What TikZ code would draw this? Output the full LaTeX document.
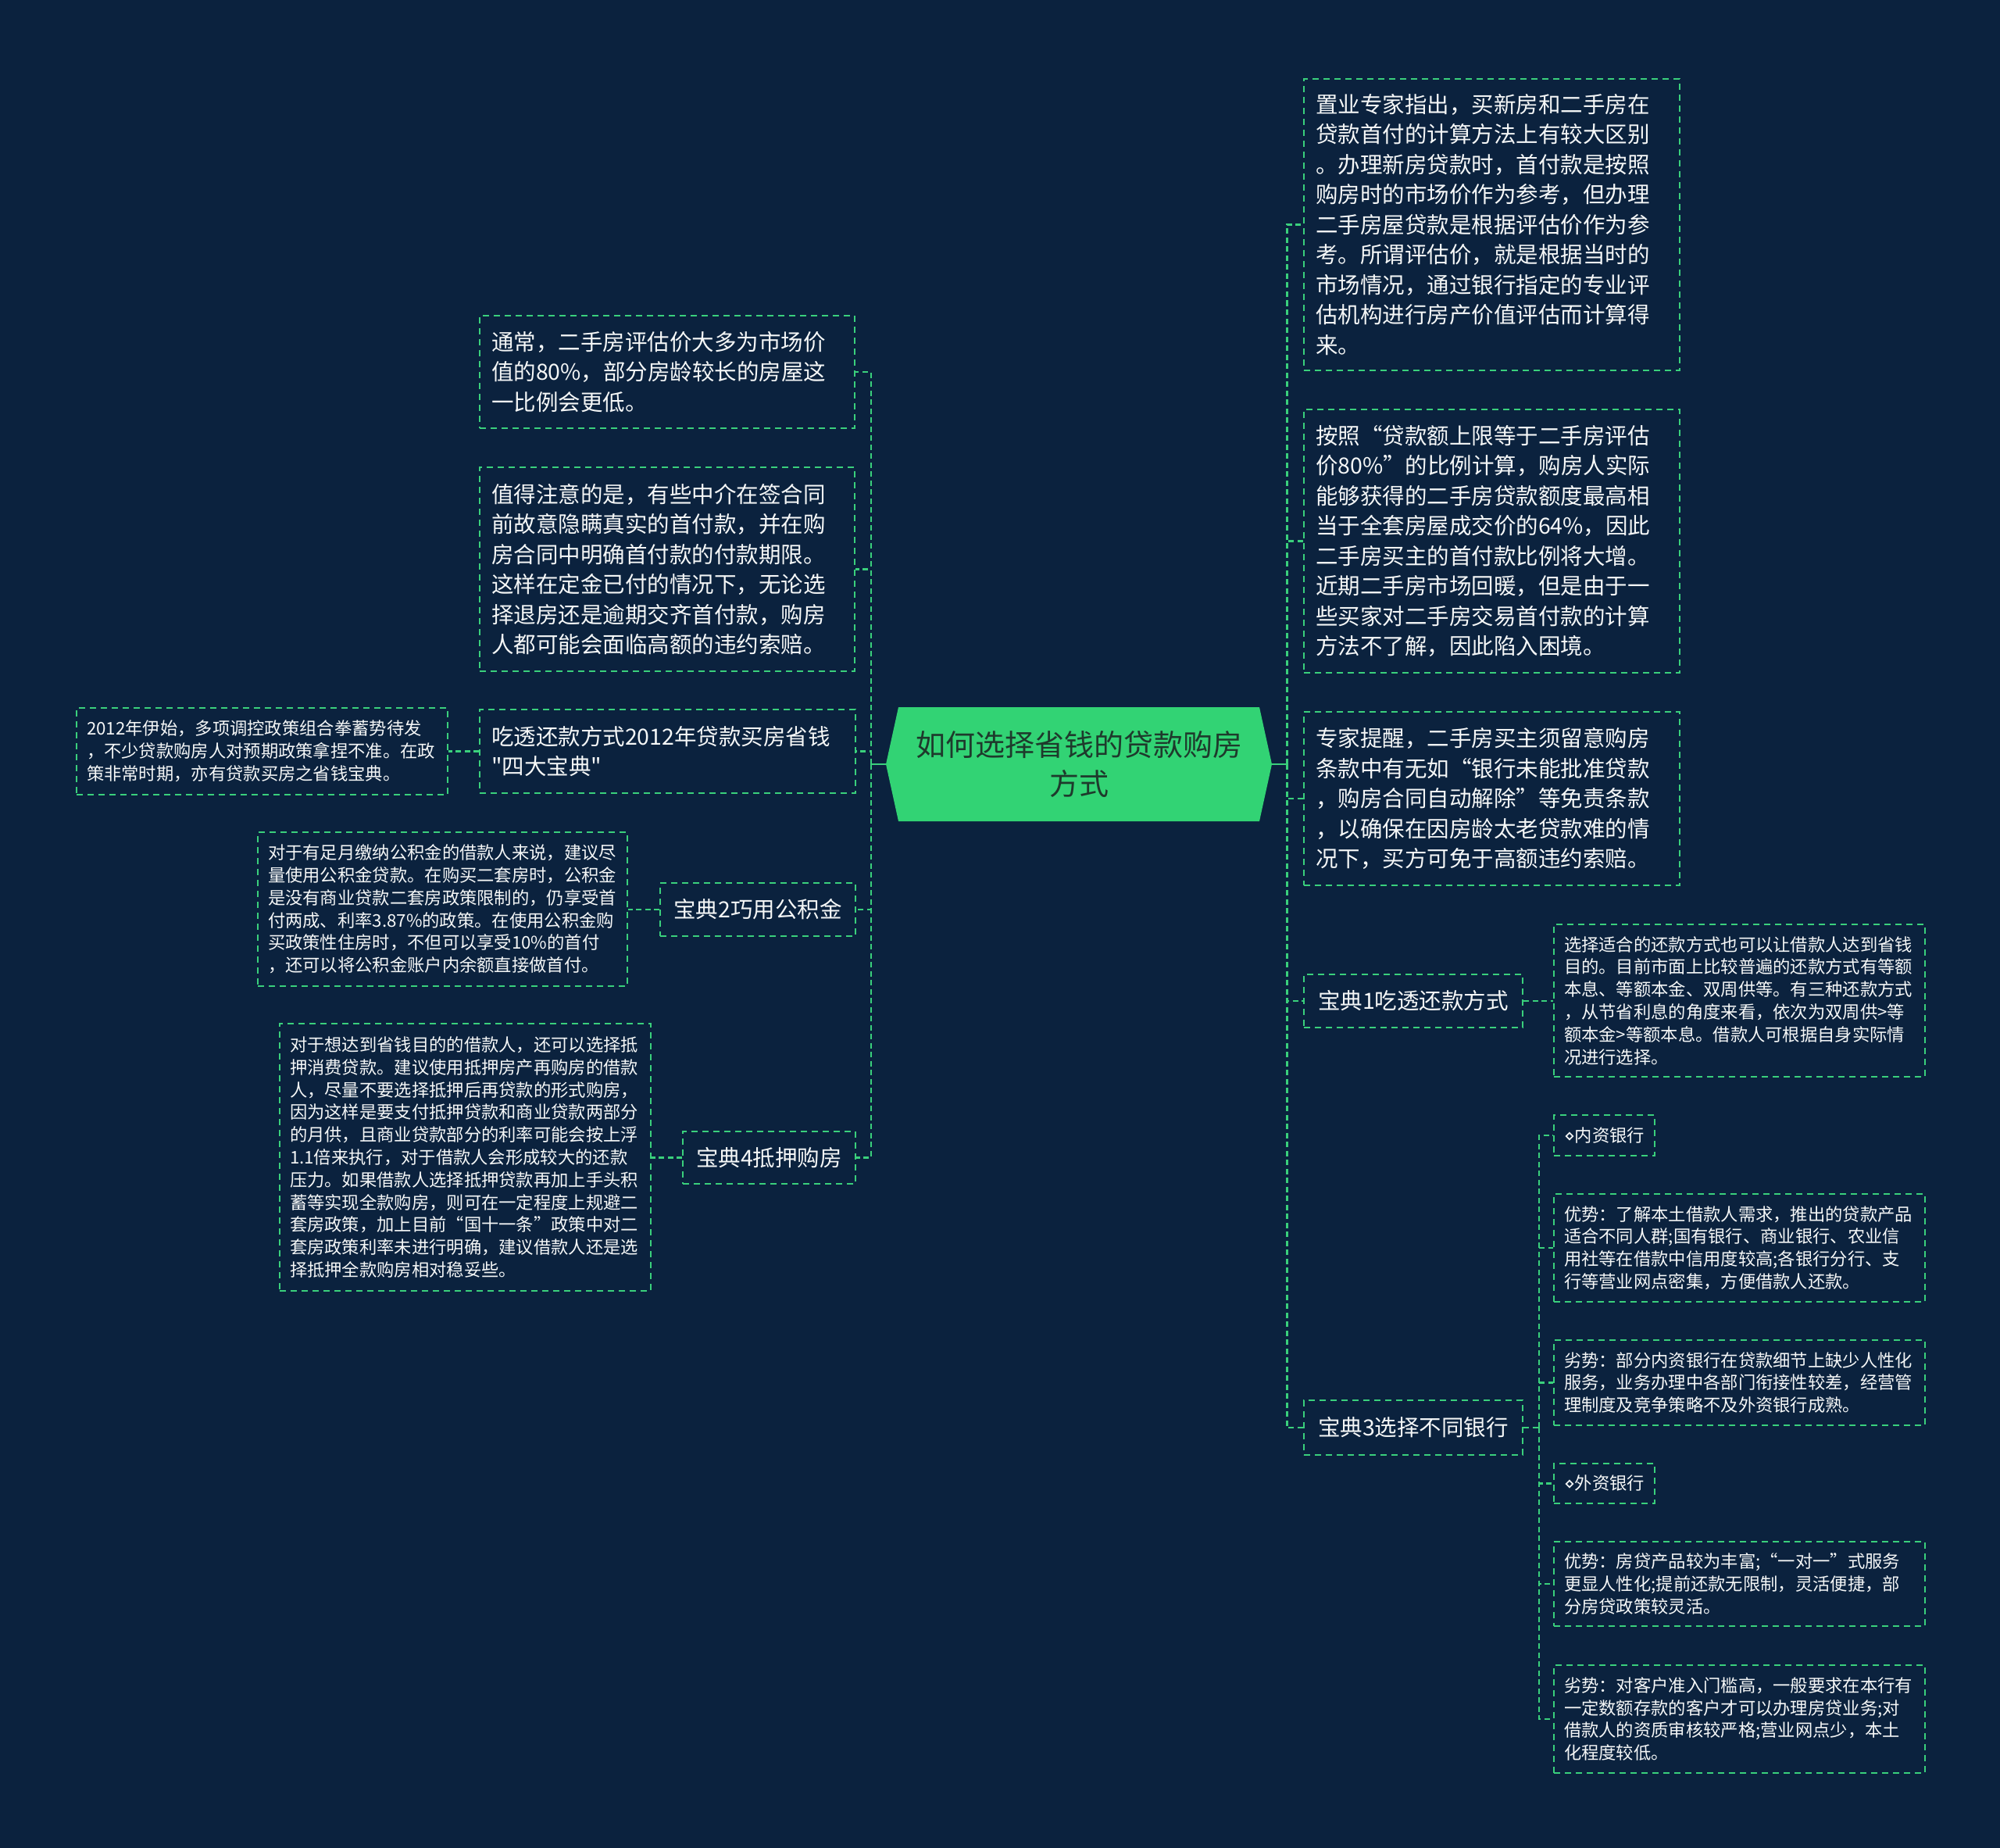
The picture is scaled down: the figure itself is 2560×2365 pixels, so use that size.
\documentclass[tikz,border=0pt]{standalone}
\usepackage{fontspec}
\setmainfont{Noto Sans CJK SC}
\newfontfamily\nq{Noto Sans CJK SC}
\newfontfamily\djv{DejaVu Sans}
\definecolor{bgc}{RGB}{11,34,62}
\definecolor{lg}{RGB}{58,208,124}
\definecolor{hexg}{RGB}{50,211,116}
\definecolor{darktxt}{RGB}{30,58,44}
\definecolor{wtxt}{RGB}{245,247,247}
\tikzset{
  bx/.style={draw=lg, line width=2pt, dash pattern=on 8pt off 6pt, text=wtxt, anchor=north west, inner xsep=15pt, inner ysep=0pt, align=left},
  big/.style={font=\fontsize{28.5}{38.5}\selectfont},
  small/.style={font=\fontsize{22.3}{28.8}\selectfont, inner xsep=13pt},
  conn/.style={draw=lg, line width=2.6pt, dash pattern=on 7pt off 4.5pt},
  ctext/.style={text=darktxt, font=\fontsize{38}{50}\selectfont, align=center, inner sep=0pt}
}
\begin{document}
\begin{tikzpicture}[x=1pt,y=-1pt]
\useasboundingbox (0,0) rectangle (2560,2365);
\fill[bgc] (0,0) rectangle (2560,2365);

% central node
\fill[hexg] (1134,978) -- (1150,905) -- (1612,905) -- (1628,978) -- (1612,1051) -- (1150,1051) -- cycle;
\node[ctext, minimum width=494pt, minimum height=146pt] (c) at (1381,978) {如何选择省钱的贷款购房\\方式};

% right side
\node[bx,big, minimum width=481pt, minimum height=373pt, text width=451pt] (r1) at (1668,100) {置业专家指出，买新房和二手房在\\贷款首付的计算方法上有较大区别\\。办理新房贷款时，首付款是按照\\购房时的市场价作为参考，但办理\\二手房屋贷款是根据评估价作为参\\考。所谓评估价，就是根据当时的\\市场情况，通过银行指定的专业评\\估机构进行房产价值评估而计算得\\来。};
\node[bx,big, minimum width=481pt, minimum height=337pt, text width=451pt] (r2) at (1668,523) {按照“贷款额上限等于二手房评估\\价80\%”的比例计算，购房人实际\\能够获得的二手房贷款额度最高相\\当于全套房屋成交价的64\%，因此\\二手房买主的首付款比例将大增。\\近期二手房市场回暖，但是由于一\\些买家对二手房交易首付款的计算\\方法不了解，因此陷入困境。};
\node[bx,big, minimum width=481pt, minimum height=222pt, text width=451pt] (r3) at (1668,910) {专家提醒，二手房买主须留意购房\\条款中有无如“银行未能批准贷款\\，购房合同自动解除”等免责条款\\，以确保在因房龄太老贷款难的情\\况下，买方可免于高额违约索赔。};
\node[bx,big, align=center, minimum width=280pt, minimum height=68pt] (n1) at (1668,1246) {宝典1吃透还款方式};
\node[bx,small, minimum width=475pt, minimum height=195pt, text width=449pt] (n1c) at (1988,1182) {选择适合的还款方式也可以让借款人达到省钱\\目的。目前市面上比较普遍的还款方式有等额\\本息、等额本金、双周供等。有三种还款方式\\，从节省利息的角度来看，依次为双周供>等\\额本金>等额本息。借款人可根据自身实际情\\况进行选择。};
\node[bx,big, align=center, minimum width=280pt, minimum height=70pt] (n3) at (1668,1791) {宝典3选择不同银行};
\node[bx,small, align=center, minimum width=128pt, minimum height=52pt] (b1) at (1988,1426) {{\djv ⋄}内资银行};
\node[bx,small, minimum width=475pt, minimum height=138pt, text width=449pt] (b2) at (1988,1527) {优势：了解本土借款人需求，推出的贷款产品\\适合不同人群;国有银行、商业银行、农业信\\用社等在借款中信用度较高;各银行分行、支\\行等营业网点密集，方便借款人还款。};
\node[bx,small, minimum width=475pt, minimum height=109pt, text width=449pt] (b3) at (1988,1714) {劣势：部分内资银行在贷款细节上缺少人性化\\服务，业务办理中各部门衔接性较差，经营管\\理制度及竞争策略不及外资银行成熟。};
\node[bx,small, align=center, minimum width=128pt, minimum height=51pt] (b4) at (1988,1872) {{\djv ⋄}外资银行};
\node[bx,small, minimum width=475pt, minimum height=108pt, text width=449pt] (b5) at (1988,1972) {优势：房贷产品较为丰富;“一对一”式服务\\更显人性化;提前还款无限制，灵活便捷，部\\分房贷政策较灵活。};
\node[bx,small, minimum width=475pt, minimum height=138pt, text width=449pt] (b6) at (1988,2130) {劣势：对客户准入门槛高，一般要求在本行有\\一定数额存款的客户才可以办理房贷业务;对\\借款人的资质审核较严格;营业网点少，本土\\化程度较低。};

% left side
\node[bx,big, minimum width=480pt, minimum height=144pt, text width=450pt] (l1) at (613,403) {通常，二手房评估价大多为市场价\\值的80\%，部分房龄较长的房屋这\\一比例会更低。};
\node[bx,big, minimum width=480pt, minimum height=261pt, text width=450pt] (l2) at (613,597) {值得注意的是，有些中介在签合同\\前故意隐瞒真实的首付款，并在购\\房合同中明确首付款的付款期限。\\这样在定金已付的情况下，无论选\\择退房还是逾期交齐首付款，购房\\人都可能会面临高额的违约索赔。};
\node[bx,big, minimum width=481pt, minimum height=107pt, text width=451pt] (l3) at (613,907) {吃透还款方式2012年贷款买房省钱\\{\nq\symbol{34}}四大宝典{\nq\symbol{34}}};
\node[bx,small, minimum width=475pt, minimum height=111pt, text width=449pt] (l3c) at (97,905) {2012年伊始，多项调控政策组合拳蓄势待发\\，不少贷款购房人对预期政策拿捏不准。在政\\策非常时期，亦有贷款买房之省钱宝典。};
\node[bx,big, align=center, minimum width=250pt, minimum height=68pt] (l4) at (844,1129) {宝典2巧用公积金};
\node[bx,small, minimum width=473pt, minimum height=197pt, text width=447pt] (l4c) at (329,1064) {对于有足月缴纳公积金的借款人来说，建议尽\\量使用公积金贷款。在购买二套房时，公积金\\是没有商业贷款二套房政策限制的，仍享受首\\付两成、利率3.87\%的政策。在使用公积金购\\买政策性住房时，不但可以享受10\%的首付\\，还可以将公积金账户内余额直接做首付。};
\node[bx,big, align=center, minimum width=221pt, minimum height=67pt] (l5) at (873,1447) {宝典4抵押购房};
\node[bx,small, minimum width=475pt, minimum height=342pt, text width=449pt] (l5c) at (357,1309) {对于想达到省钱目的的借款人，还可以选择抵\\押消费贷款。建议使用抵押房产再购房的借款\\人，尽量不要选择抵押后再贷款的形式购房，\\因为这样是要支付抵押贷款和商业贷款两部分\\的月供，且商业贷款部分的利率可能会按上浮\\1.1倍来执行，对于借款人会形成较大的还款\\压力。如果借款人选择抵押贷款再加上手头积\\蓄等实现全款购房，则可在一定程度上规避二\\套房政策，加上目前“国十一条”政策中对二\\套房政策利率未进行明确，建议借款人还是选\\择抵押全款购房相对稳妥些。};

% connectors right
\draw[lg, line width=2.6pt] (c.east) -- ++(19,0) coordinate (rt);
\draw[conn] (rt) |- (r1.west);
\draw[conn] (rt) |- (r2.west);
\draw[conn] (rt) |- (r3.west);
\draw[conn] (rt) |- (n1.west);
\draw[conn] (rt) |- (n3.west);
\draw[conn] (n1.east) -- (n1.east -| n1c.west);
\draw[conn] (n3.east) -- ++(20,0) coordinate (t3);
\draw[conn] (t3) |- (b1.west);
\draw[conn] (t3) |- (b2.west);
\draw[conn] (t3) |- (b3.west);
\draw[conn] (t3) |- (b4.west);
\draw[conn] (t3) |- (b5.west);
\draw[conn] (t3) |- (b6.west);

% connectors left
\draw[lg, line width=2.6pt] (c.west) -- ++(-19,0) coordinate (lt);
\draw[conn] (lt) |- (l1.east);
\draw[conn] (lt) |- (l2.east);
\draw[conn] (lt) |- (l3.east);
\draw[conn] (lt) |- (l4.east);
\draw[conn] (lt) |- (l5.east);
\draw[conn] (l3.west) -- (l3.west -| l3c.east);
\draw[conn] (l4.west) -- (l4.west -| l4c.east);
\draw[conn] (l5.west) -- (l5.west -| l5c.east);
\end{tikzpicture}
\end{document}
